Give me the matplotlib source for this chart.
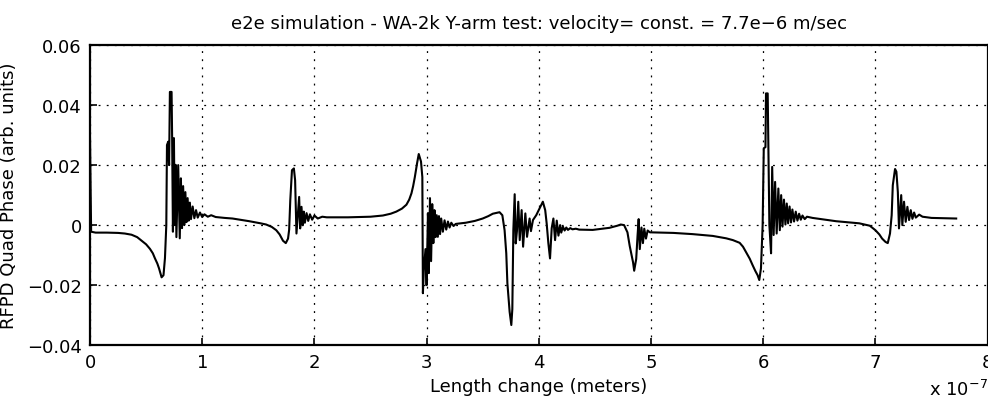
import numpy as np
import matplotlib.pyplot as plt

# (length change [1e-7 m], RFPD quad phase [arb.]), one list per resonance
res_1 = [
    (0.0, 0.0289), (0.01, -0.0022), (0.05, -0.0025), (0.15, -0.0025), (0.25, -0.0026),
    (0.31, -0.0028), (0.37, -0.0032), (0.42, -0.004), (0.46, -0.0052), (0.50, -0.0064),
    (0.534, -0.0079), (0.56, -0.0094), (0.579, -0.0111), (0.60, -0.0128), (0.615, -0.0144),
    (0.638, -0.0174), (0.655, -0.0167), (0.668, -0.011), (0.68, 0.0), (0.686, 0.0267),
    (0.697, 0.0278), (0.705, 0.020), (0.712, 0.0444), (0.727, 0.0444), (0.732, 0.029),
    (0.739, -0.0022), (0.748, 0.029), (0.755, 0.0), (0.763, 0.0201), (0.77, -0.004),
    (0.786, 0.020), (0.80, -0.0044), (0.81, 0.0156), (0.82, -0.001), (0.83, 0.013),
    (0.84, 0.0), (0.85, 0.011), (0.86, 0.001), (0.87, 0.009), (0.88, 0.0015),
    (0.89, 0.0075), (0.90, 0.002), (0.915, 0.0062), (0.93, 0.0023), (0.945, 0.005),
    (0.96, 0.0025), (0.98, 0.0042), (1.0, 0.0027), (1.02, 0.0036), (1.05, 0.0028),
    (1.08, 0.0033), (1.12, 0.0027), (1.2, 0.0024), (1.27, 0.0022), (1.42, 0.0013),
    (1.52, 0.0006), (1.57, 0.0002),
]
res_2 = [
    (1.62, -0.0006), (1.66, -0.0017), (1.69, -0.0031), (1.72, -0.0052), (1.745, -0.006),
    (1.765, -0.0045), (1.775, -0.0015), (1.785, 0.0083),
    (1.80, 0.0183), (1.817, 0.0189), (1.828, 0.015), (1.84, -0.0028), (1.864, 0.0094),
    (1.873, -0.0011), (1.885, 0.0061), (1.895, 0.0), (1.905, 0.0045), (1.915, 0.0008),
    (1.93, 0.004), (1.945, 0.0014), (1.96, 0.0036), (1.98, 0.0018), (2.0, 0.0032),
    (2.03, 0.0022), (2.07, 0.0028), (2.11, 0.0026), (2.3, 0.0026), (2.5, 0.0028),
    (2.61, 0.0032), (2.68, 0.0038), (2.73, 0.0045), (2.78, 0.0055), (2.82, 0.0068),
    (2.845, 0.0085), (2.865, 0.0106), (2.88, 0.013), (2.895, 0.016),
    (2.915, 0.0206), (2.93, 0.0237), (2.95, 0.0212), (2.962, 0.016),
]
res_3 = [
    (2.967, -0.0227), (2.975, -0.0153), (2.99, -0.008), (3.0, -0.020), (3.012, 0.004),
    (3.02, -0.016), (3.03, 0.009), (3.04, -0.012), (3.05, 0.007), (3.06, -0.006),
    (3.07, 0.005), (3.08, -0.004), (3.09, 0.0033), (3.10, -0.0039), (3.11, 0.003),
    (3.12, -0.003), (3.13, 0.0022), (3.145, -0.0022), (3.16, 0.0016), (3.175, -0.0015),
    (3.19, 0.0012), (3.205, -0.0008), (3.22, 0.0008), (3.24, -0.0003), (3.26, 0.0004),
    (3.35, 0.0008), (3.43, 0.0014), (3.5, 0.0022), (3.55, 0.003), (3.59, 0.0038),
    (3.65, 0.0043), (3.675, 0.0033), (3.695, -0.0017),
]
res_4 = [
    (3.71, -0.0094), (3.72, -0.0194), (3.74, -0.0289), (3.755, -0.0333), (3.764, -0.028),
    (3.773, -0.0017), (3.785, 0.0103), (3.794, -0.0061), (3.805, -0.002), (3.817, 0.0078),
    (3.83, -0.005), (3.847, 0.005), (3.86, -0.0072), (3.88, 0.0039), (3.895, -0.0039),
    (3.918, 0.0022), (3.93, -0.002), (3.948, 0.0017), (3.977, 0.0033), (4.007, 0.0056),
    (4.036, 0.0078), (4.057, 0.005), (4.07, 0.0006), (4.085, -0.006), (4.10, -0.0111),
    (4.115, -0.001), (4.13, 0.0022), (4.145, -0.005), (4.16, 0.0015), (4.175, -0.0035),
    (4.19, 0.0), (4.20, -0.0025), (4.215, -0.0005), (4.23, -0.0018), (4.245, -0.0008),
    (4.26, -0.0016), (4.28, -0.001), (4.30, -0.0014), (4.33, -0.0012), (4.36, -0.0015),
    (4.48, -0.0016), (4.63, -0.0009), (4.70, -0.0002), (4.73, 0.0002), (4.76, 0.0),
]
res_5 = [
    (4.79, -0.0024), (4.81, -0.0069), (4.84, -0.0124), (4.85, -0.0152), (4.868, -0.0113),
    (4.88, -0.0036), (4.89, 0.002), (4.90, -0.008), (4.915, -0.0008), (4.928, -0.006),
    (4.94, -0.0012), (4.955, -0.0045), (4.97, -0.0018), (4.99, -0.0024), (5.2, -0.0026),
    (5.37, -0.003), (5.55, -0.0036), (5.67, -0.0044), (5.73, -0.005), (5.79, -0.0059),
    (5.82, -0.0072), (5.85, -0.0092), (5.88, -0.0112), (5.905, -0.0133), (5.93, -0.0153),
    (5.95, -0.0167), (5.965, -0.0183), (5.98, -0.0144), (5.995, 0.0),
]
res_6 = [
    (6.005, 0.0256), (6.02, 0.026), (6.025, 0.0439), (6.04, 0.0439), (6.045, 0.030),
    (6.055, 0.0), (6.07, -0.0094), (6.08, 0.0194), (6.093, -0.0033), (6.106, 0.0144),
    (6.12, -0.0028), (6.135, 0.0122), (6.148, -0.0017), (6.16, 0.010), (6.172, -0.0005),
    (6.185, 0.0085), (6.198, 0.0002), (6.21, 0.0072), (6.222, 0.0006), (6.235, 0.0062),
    (6.248, 0.0009), (6.26, 0.0052), (6.275, 0.0012), (6.29, 0.0045), (6.305, 0.0015),
    (6.32, 0.0038), (6.335, 0.0018), (6.35, 0.0032), (6.37, 0.002), (6.39, 0.0028),
    (6.44, 0.0024), (6.65, 0.0013), (6.856, 0.0006), (6.95, -0.0002), (7.0, -0.0017),
    (7.035, -0.0031), (7.06, -0.0045), (7.09, -0.0056), (7.11, -0.006),
]
res_7 = [
    (7.13, -0.0028), (7.145, 0.0033), (7.155, 0.0133), (7.175, 0.0187), (7.187, 0.0178),
    (7.2, 0.011), (7.21, -0.0011), (7.23, 0.010), (7.24, 0.0), (7.255, 0.0078),
    (7.27, 0.0011), (7.285, 0.0061), (7.30, 0.0017), (7.315, 0.005), (7.33, 0.0021),
    (7.345, 0.0042), (7.36, 0.0025), (7.39, 0.0035), (7.42, 0.0028), (7.5, 0.0024),
    (7.72, 0.0022),
]

y_ticks = [-0.04, -0.02, 0, 0.02, 0.04, 0.06]
y_ticklabels = ['\u22120.04', '\u22120.02', '0', '0.02', '0.04', '0.06']
x_ticks = [0, 1, 2, 3, 4, 5, 6, 7, 8]

pts = res_1 + res_2 + res_3 + res_4 + res_5 + res_6 + res_7
length_change = [p[0] for p in pts]
quad_phase = [p[1] for p in pts]

plt.rcParams['font.family'] = ['DejaVu Sans']
fs = 13

fig = plt.figure(figsize=(9.88, 4.02), dpi=100)
ax = fig.add_axes([0.0911, 0.139, 0.9085, 0.7463])

ax.plot(length_change, quad_phase, color='black', lw=1.5)

ax.set_xlim(0, 8)
ax.set_ylim(-0.04, 0.06)
ax.set_xticks(x_ticks)
ax.set_yticks(y_ticks)
ax.set_yticklabels(y_ticklabels)
ax.tick_params(direction='in', length=5, width=1.2, labelsize=fs, pad=6)
ax.grid(True, color='black', linestyle=(0, (1.5, 5)), linewidth=0.9)
for s in ax.spines.values():
    s.set_linewidth(1.6)

ax.set_title('e2e simulation - WA-2k Y-arm test: velocity= const. = 7.7e\u22126 m/sec',
             fontsize=fs, pad=12)
ax.set_xlabel('Length change (meters)', fontsize=fs, labelpad=4)
ax.set_ylabel('RFPD Quad Phase (arb. units)', fontsize=fs, labelpad=6)
fig.text(0.9995, 0.005, 'x 10$^{-7}$', fontsize=fs, ha='right', va='bottom')

fig.savefig('out.png', dpi=100)
